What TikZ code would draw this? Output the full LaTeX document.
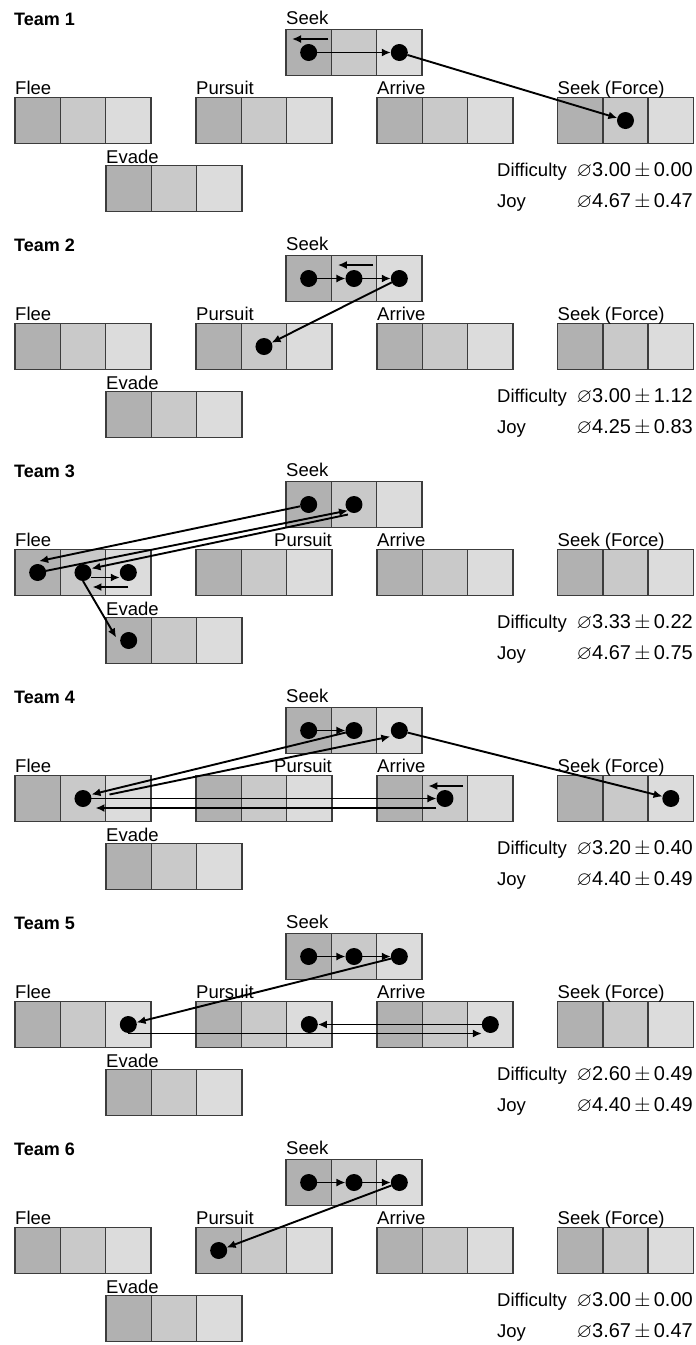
\documentclass[tikz,border=0pt]{standalone}
\usepackage{amssymb}
\usepackage{fontspec}
\setmainfont{Liberation Sans}
\usetikzlibrary{arrows.meta}
\definecolor{celldark}{HTML}{B1B1B1}
\definecolor{cellmid}{HTML}{C9C9C9}
\definecolor{celllight}{HTML}{DCDCDC}
\definecolor{cellline}{HTML}{3C3C3C}
\tikzset{
  cell/.style={draw=cellline, line width=1.4pt, minimum width=45.33pt, minimum height=46pt, inner sep=0pt, outer sep=0pt},
  dot/.style={circle, fill=black, minimum size=17pt, inner sep=0pt, outer sep=0pt},
  arr/.style={line width=1.9pt, -{Latex[length=9pt,width=8pt]}},
  lbl/.style={inner sep=0pt, anchor=base west, font=\fontsize{18.5}{22}\selectfont},
}
\begin{document}
\begin{tikzpicture}[x=1pt, y=-1pt]
    % 1 unit = 1 px of the 696x1345 sheet, y pointing down
    \useasboundingbox (0,0) rectangle (696,1345);
    \def\dy{226}   % vertical distance between two teams
    \def\cw{45.33} % cell width
    % frame of every team: boxes, labels, ratings
    \foreach \t/\pa/\pc/\da/\db/\ja/\jb in {1/west/1/3.00/0.00/4.67/0.47, 2/west/1/3.00/1.12/4.25/0.83,
        3/east/3/3.33/0.22/4.67/0.75, 4/east/3/3.20/0.40/4.40/0.49,
        5/west/1/2.60/0.49/4.40/0.49, 6/west/1/3.00/0.00/3.67/0.47} {
        \pgfmathsetmacro\oy{\dy*(\t-1)}
        \node[lbl, font=\bfseries\fontsize{18}{21}\selectfont] (t\t-title) at (14,25+\oy) {Team \t};
        % three cells per behaviour (dark / mid / light)
        \foreach \b/\bx/\by in {seek/286/29.5, flee/15/97.5, pursuit/196/97.5, arrive/377/97.5, force/557.5/97.5, evade/106/165.5} {
            \foreach \i/\c in {1/celldark, 2/cellmid, 3/celllight}
                \node[cell, fill=\c] (t\t-\b-\i) at ({\bx+\cw*(\i-0.5)},{\by+23+\oy}) {};
        }
        \foreach \b/\txt/\ys in {seek/Seek/5.5, flee/Flee/3.5, arrive/Arrive/3.5, force/Seek (Force)/3.5, evade/Evade/2.5}
            \node[lbl] (t\t-\b-lbl) at ([yshift=\ys pt]t\t-\b-1.north west) {\txt};
        % Pursuit label moves to the right end when arrows cross it
        \node[lbl, anchor=base \pa] (t\t-pursuit-lbl) at ([yshift=3.5pt]t\t-pursuit-\pc.north \pa) {Pursuit};
        % ratings
        \node[lbl] (t\t-dif) at (497,176.7+\oy) {Difficulty};
        \node[lbl, anchor=base east, font=\fontsize{20}{24}\selectfont] (t\t-difv) at (693,176.7+\oy) {$\varnothing$\da\,$\pm$\,\db};
        \node[lbl] (t\t-joy) at (497,207+\oy) {Joy};
        \node[lbl, anchor=base east, font=\fontsize{20}{24}\selectfont] (t\t-joyv) at (693,207+\oy) {$\varnothing$\ja\,$\pm$\,\jb};
    }
    % visited states (dots)
    \foreach \t/\d in {1/seek-1, 1/seek-3, 1/force-2,
        2/seek-1, 2/seek-2, 2/seek-3, 2/pursuit-2,
        3/seek-1, 3/seek-2, 3/flee-1, 3/flee-2, 3/flee-3, 3/evade-1,
        4/seek-1, 4/seek-2, 4/seek-3, 4/flee-2, 4/arrive-2, 4/force-3,
        5/seek-1, 5/seek-2, 5/seek-3, 5/flee-3, 5/pursuit-3, 5/arrive-3,
        6/seek-1, 6/seek-2, 6/seek-3, 6/pursuit-1}
        \node[dot] (t\t-d-\d) at (t\t-\d) {};
    % Team 1
    \draw[arr] (t1-d-seek-1) -- (t1-d-seek-3);
    \draw[arr] ([xshift=-3pt,yshift=-9.5pt]t1-seek-1.north east) -- ([xshift=6pt,yshift=-9.5pt]t1-seek-1.north west);
    \draw[arr] (t1-d-seek-3) -- (t1-d-force-2);
    % Team 2
    \draw[arr] (t2-d-seek-1) -- (t2-d-seek-2);
    \draw[arr] (t2-d-seek-2) -- (t2-d-seek-3);
    \draw[arr] ([xshift=-3.5pt,yshift=-9.5pt]t2-seek-2.north east) -- ([xshift=6.5pt,yshift=-9.5pt]t2-seek-2.north west);
    \draw[arr] (t2-d-seek-3) -- (t2-d-pursuit-2);
    % Team 3
    \draw[arr] (t3-d-seek-1) -- ([yshift=3pt]t3-d-flee-1.80);
    \draw[arr] (t3-d-flee-1) -- (t3-d-seek-2.south west);
    \draw[arr] ([yshift=-4pt]t3-d-seek-2.south west) -- ([yshift=4pt]t3-d-flee-2.east);
    \draw[arr] ([yshift=-5pt]t3-d-flee-2.east) -- ([yshift=-5pt]t3-d-flee-3.west);
    \draw[arr] ([yshift=-6pt]t3-d-flee-3.south) -- ([xshift=1pt,yshift=-14.5pt]t3-d-flee-2.east);
    \draw[arr] (t3-d-flee-2.south) -- ([xshift=-4pt,yshift=3pt]t3-d-evade-1.west);
    % Team 4
    \draw[arr] (t4-d-seek-1) -- (t4-d-seek-2);
    \draw[arr] (t4-d-seek-2) -- ([yshift=4pt]t4-d-flee-2.east);
    \draw[arr] ([xshift=18pt,yshift=4pt]t4-d-flee-2.east) -- ([xshift=-3pt]t4-d-seek-3.south west);
    \draw[arr] (t4-d-flee-2) -- (t4-d-arrive-2);
    \draw[arr] ([yshift=-9.5pt]t4-d-arrive-2.west) -- ([xshift=4pt,yshift=-9.5pt]t4-d-flee-2.east);
    \draw[arr] ([xshift=-4.5pt,yshift=-10.5pt]t4-arrive-2.north east) -- ([xshift=6pt,yshift=-10.5pt]t4-arrive-2.north west);
    \draw[arr] (t4-d-seek-3) -- (t4-d-force-3);
    % Team 5
    \draw[arr] (t5-d-seek-1) -- (t5-d-seek-2);
    \draw[arr] (t5-d-seek-2) -- (t5-d-seek-3);
    \draw[arr] (t5-d-seek-3) -- (t5-d-flee-3);
    \draw[arr] ([yshift=-9pt]t5-d-flee-3.center) -- ([yshift=-9pt]t5-d-arrive-3.west);
    \draw[arr] (t5-d-arrive-3) -- (t5-d-pursuit-3);
    % Team 6
    \draw[arr] (t6-d-seek-1) -- (t6-d-seek-2);
    \draw[arr] (t6-d-seek-2) -- (t6-d-seek-3);
    \draw[arr] (t6-d-seek-3) -- (t6-d-pursuit-1);
\end{tikzpicture}
\end{document}
